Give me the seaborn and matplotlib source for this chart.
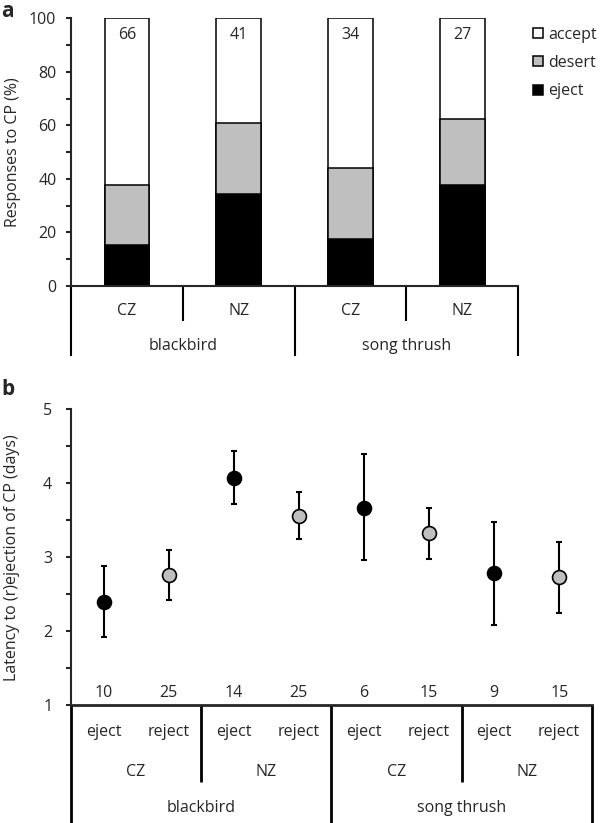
import pandas as pd
import matplotlib
matplotlib.use('Agg')
from matplotlib import pyplot
import matplotlib.ticker as ticker
import matplotlib.transforms as mtrans
from matplotlib.patches import Patch
import seaborn as sns

# panel a: responses to the model cuckoo egg (CP), % of clutches
groups_a = ['blackbird CZ', 'blackbird NZ', 'song thrush CZ', 'song thrush NZ']
pop_a = ['CZ', 'NZ', 'CZ', 'NZ']
species = ['blackbird', 'song thrush']
eject_pct = [15.2, 34.2, 17.6, 37.6]
desert_pct = [22.6, 26.6, 26.3, 24.9]
n_clutches = [66, 41, 34, 27]

# panel b: latency to (r)ejection, mean with 95% CI
groups_b = ['bb CZ ej', 'bb CZ re', 'bb NZ ej', 'bb NZ re',
            'st CZ ej', 'st CZ re', 'st NZ ej', 'st NZ re']
response_b = ['eject', 'reject'] * 4
pop_b = ['CZ', 'NZ', 'CZ', 'NZ']
latency_mean = [2.40, 2.76, 4.07, 3.56, 3.67, 3.33, 2.78, 2.73]
latency_low = [1.92, 2.42, 3.72, 3.24, 2.96, 2.98, 2.08, 2.25]
latency_high = [2.88, 3.10, 4.43, 3.88, 4.39, 3.67, 3.48, 3.21]
n_latency = [10, 25, 14, 25, 6, 15, 9, 15]

GREY = '#bfbfbf'
FS = 11.5
LW = 1.5

sns.set_theme(style="ticks")
pyplot.rcParams['font.family'] = ['Open Sans', 'DejaVu Sans']
pyplot.rcParams['axes.linewidth'] = LW

fig = pyplot.figure(figsize=(6, 8.23), dpi=100)
axA = fig.add_axes([0.1183, 0.6525, 0.7455, 0.3253])
axB = fig.add_axes([0.1183, 0.1432, 0.8679, 0.3595])

# ---------- panel a ----------
dfA = pd.DataFrame({'group': groups_a, 'eject': eject_pct, 'desert': desert_pct})
dfA['reject'] = dfA['eject'] + dfA['desert']
dfA['all'] = 100.0

for col, c in [('all', 'white'), ('reject', GREY), ('eject', 'black')]:
	sns.barplot(data=dfA, x='group', y=col, order=groups_a, color=c, saturation=1,
				edgecolor='black', linewidth=1.1, width=0.4, ax=axA, zorder=2)

axA.set(xlim=(-0.5, 3.5), ylim=(0, 100), xlabel='', ylabel='')
axA.set_ylabel('Responses to CP (%)', fontsize=FS)
axA.yaxis.set_label_coords(-0.112, 0.5)
axA.set_yticks(range(0, 101, 20))
axA.yaxis.set_minor_locator(ticker.MultipleLocator(10))
axA.tick_params(axis='y', which='both', direction='out', length=3.5, width=LW,
				labelsize=FS, pad=7)
axA.tick_params(axis='x', length=0, labelbottom=False)
sns.despine(ax=axA)

for i, n in enumerate(n_clutches):
	axA.text(i, 93.8, str(n), ha='center', va='center', fontsize=FS)

trA = mtrans.blended_transform_factory(axA.transData, axA.transAxes)
for i, p in enumerate(pop_a):
	axA.text(i, -0.093, p, ha='center', va='center', fontsize=FS, transform=trA)
for j, s in enumerate(species):
	axA.text(2 * j + 0.5, -0.223, s, ha='center', va='center', fontsize=FS, transform=trA)
for x, y2 in [(-0.5, -0.2615), (0.5, -0.1307), (1.5, -0.2615), (2.5, -0.1307), (3.5, -0.2615)]:
	axA.plot([x, x], [0, y2], color='black', lw=LW, transform=trA, clip_on=False,
			 solid_capstyle='butt')

handles = [Patch(facecolor=c, edgecolor='black', linewidth=1.1, label=l)
		   for c, l in [('white', 'accept'), (GREY, 'desert'), ('black', 'eject')]]
axA.legend(handles=handles, loc='upper left', bbox_to_anchor=(1.03, 0.975), frameon=False,
		   fontsize=FS, handlelength=0.6, handleheight=0.6, handletextpad=0.35,
		   labelspacing=0.78, borderaxespad=0, borderpad=0.1)

# ---------- panel b ----------
dfB = pd.DataFrame({'group': groups_b, 'response': response_b, 'mean': latency_mean,
					'low': latency_low, 'high': latency_high})
pos = list(range(len(groups_b)))
axB.errorbar(pos, dfB['mean'], yerr=[dfB['mean'] - dfB['low'], dfB['high'] - dfB['mean']],
			 fmt='none', ecolor='black', elinewidth=LW, capsize=2.2, capthick=LW, zorder=2)
sns.stripplot(data=dfB, x='group', y='mean', hue='response', order=groups_b,
			  palette={'eject': 'black', 'reject': GREY}, jitter=False, size=10,
			  linewidth=1.2, edgecolor='black', legend=False, ax=axB, zorder=3)

axB.set(xlim=(-0.5, 7.5), ylim=(1, 5), xlabel='')
axB.set_ylabel('Latency to (r)ejection of CP (days)', fontsize=FS)
axB.yaxis.set_label_coords(-0.098, 0.5)
axB.set_yticks([1, 2, 3, 4, 5])
axB.yaxis.set_minor_locator(ticker.MultipleLocator(0.5))
axB.tick_params(axis='y', which='both', direction='out', length=3.5, width=LW,
				labelsize=FS, pad=10)
axB.tick_params(axis='x', length=0, labelbottom=False)
axB.spines['bottom'].set_linewidth(2)
sns.despine(ax=axB)

for i, n in enumerate(n_latency):
	axB.text(i, 1.168, str(n), ha='center', va='center', fontsize=FS)

trB = mtrans.blended_transform_factory(axB.transData, axB.transAxes)
for i, r in enumerate(response_b):
	axB.text(i, -0.092, r, ha='center', va='center', fontsize=FS, transform=trB)
for i, p in enumerate(pop_b):
	axB.text(2 * i + 0.5, -0.225, p, ha='center', va='center', fontsize=FS, transform=trB)
for j, s in enumerate(species):
	axB.text(4 * j + 1.5, -0.349, s, ha='center', va='center', fontsize=FS, transform=trB)
for x, y2 in [(-0.5, -0.41), (1.5, -0.26), (3.5, -0.41), (5.5, -0.26), (7.5, -0.41)]:
	axB.plot([x, x], [0, y2], color='black', lw=2, transform=trB, clip_on=False,
			 solid_capstyle='butt')

fig.text(0.002, 0.999, 'a', fontsize=15, fontweight='bold', va='top', ha='left')
fig.text(0.002, 1 - 395 / 823, 'b', fontsize=15, fontweight='bold', va='baseline', ha='left')

fig.savefig('out.png', dpi=100)
